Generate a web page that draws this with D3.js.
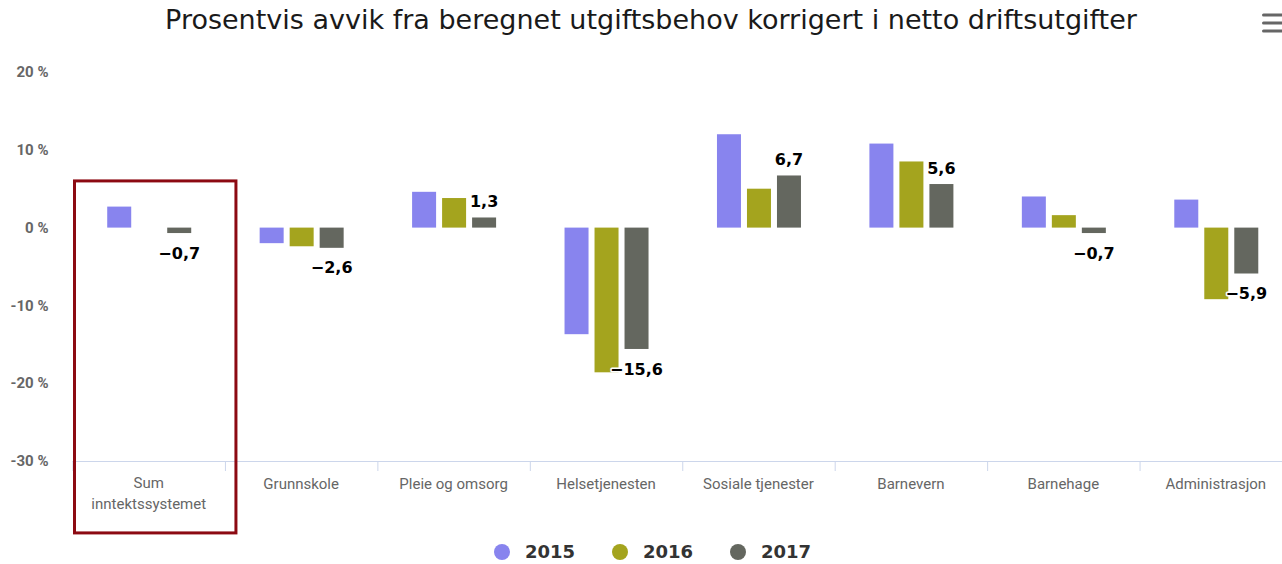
<!DOCTYPE html>
<html>
<head>
<meta charset="utf-8">
<script src="https://cdn.jsdelivr.net/npm/d3@7"></script>
<style>
  body { margin: 0; background: #fff; }
  svg { display: block; }
  .catLabel, .yLabel { font-family: "Liberation Sans Narrow", "Roboto", sans-serif; fill: #666; }
  .valLabel { font-family: "DejaVu Sans", sans-serif; font-weight: bold; font-size: 16px; fill: #000;
    stroke: #fff; stroke-width: 3px; paint-order: stroke; stroke-linejoin: round; }
</style>
</head>
<body>
<div class="chart_wrapper"></div>
<script>
// values (percent)
const categories = ["Sum inntektssystemet", "Grunnskole", "Pleie og omsorg", "Helsetjenesten",
  "Sosiale tjenester", "Barnevern", "Barnehage", "Administrasjon"]
const years = ["2015", "2016", "2017"]
const values2015 = [2.7, -2.0, 4.6, -13.7, 12.0, 10.8, 4.0, 3.6]
const values2016 = [0, -2.4, 3.8, -18.6, 5.0, 8.5, 1.6, -9.2]
const values2017 = [-0.7, -2.6, 1.3, -15.6, 6.7, 5.6, -0.7, -5.9]
const yTicks = [20, 10, 0, -10, -20, -30]
const colors = ["#8884ee", "#a4a41e", "#64675f"]

const series = [values2015, values2016, values2017]

let dimensions = {
  width: 1282,
  height: 564,
  margin: { top: 72, right: -10, bottom: 103, left: 72.5 },
}
dimensions.boundedWidth = dimensions.width - dimensions.margin.left - dimensions.margin.right
dimensions.boundedHeight = dimensions.height - dimensions.margin.top - dimensions.margin.bottom

const wrapper = d3.select(".chart_wrapper")
  .append("svg")
  .attr("width", dimensions.width)
  .attr("height", dimensions.height)

// title
wrapper.append("text")
  .attr("x", 651)
  .attr("y", 29)
  .attr("text-anchor", "middle")
  .style("font-family", "'DejaVu Sans', sans-serif")
  .style("font-size", "27px")
  .style("fill", "#1a1a1a")
  .text("Prosentvis avvik fra beregnet utgiftsbehov korrigert i netto driftsutgifter")

// menu icon
wrapper.append("g")
  .selectAll("rect")
  .data([15, 23, 31])
  .join("rect")
  .attr("x", 1262)
  .attr("y", d => d - 1.5)
  .attr("width", 24)
  .attr("height", 3)
  .attr("rx", 1.5)
  .attr("fill", "#666")

const bounds = wrapper.append("g")
  .attr("transform", `translate(${dimensions.margin.left},${dimensions.margin.top})`)

const xScale = d3.scaleBand()
  .domain(categories)
  .range([0, dimensions.boundedWidth])

const yScale = d3.scaleLinear()
  .domain([-30, 20])
  .range([dimensions.boundedHeight, 0])

const cw = xScale.bandwidth()
const xSub = d3.scaleBand()
  .domain(years)
  .range([cw / 2 - 45 + 0.5, cw / 2 + 45 + 0.5])
  .paddingInner(0.2)
  .paddingOuter(0.1)

// y labels
bounds.append("g")
  .selectAll("text")
  .data(yTicks)
  .join("text")
  .attr("class", "yLabel")
  .attr("x", -24)
  .attr("y", d => yScale(d))
  .attr("dy", "0.35em")
  .attr("text-anchor", "end")
  .style("font-size", "15px")
  .style("font-weight", "bold")
  .text(d => d + " %")

// x axis line and ticks
bounds.append("line")
  .attr("x1", 0)
  .attr("x2", dimensions.boundedWidth)
  .attr("y1", yScale(-30) + 0.5)
  .attr("y2", yScale(-30) + 0.5)
  .attr("stroke", "#ccd6eb")

bounds.append("g")
  .selectAll("line")
  .data(categories)
  .join("line")
  .attr("x1", d => xScale(d) + 0.5)
  .attr("x2", d => xScale(d) + 0.5)
  .attr("y1", yScale(-30))
  .attr("y2", yScale(-30) + 10)
  .attr("stroke", "#ccd6eb")

// category labels
const catText = bounds.append("g")
  .selectAll("text")
  .data(categories)
  .join("text")
  .attr("class", "catLabel")
  .attr("x", d => xScale(d) + cw / 2)
  .attr("y", yScale(-30) + 28)
  .attr("text-anchor", "middle")
  .style("font-size", "15px")

catText.each(function (d) {
  const t = d3.select(this)
  const parts = d === "Sum inntektssystemet" ? ["Sum", "inntektssystemet"] : [d]
  parts.forEach((p, i) => {
    t.append("tspan")
      .attr("x", xScale(d) + cw / 2)
      .attr("dy", i === 0 ? (parts.length > 1 ? "-0.1em" : 0) : "1.45em")
      .text(p)
  })
})

// bars
years.forEach((yr, si) => {
  bounds.append("g")
    .selectAll("rect")
    .data(series[si].map((v, i) => ({ cat: categories[i], v })))
    .join("rect")
    .filter(d => d.v !== 0)
    .attr("x", d => xScale(d.cat) + xSub(yr))
    .attr("width", xSub.bandwidth())
    .attr("y", d => yScale(Math.max(0, d.v)))
    .attr("height", d => Math.abs(yScale(d.v) - yScale(0)))
    .attr("fill", colors[si])
})

// data labels on 2017
bounds.append("g")
  .selectAll("text")
  .data(values2017.map((v, i) => ({ cat: categories[i], v })))
  .join("text")
  .attr("class", "valLabel")
  .attr("x", d => xScale(d.cat) + xSub("2017") + xSub.bandwidth() / 2)
  .attr("y", d => d.v >= 0 ? yScale(d.v) - 16 : yScale(d.v) + 20)
  .attr("dy", "0.35em")
  .attr("text-anchor", "middle")
  .text(d => (d.v < 0 ? "\u2212" : "") + Math.abs(d.v).toFixed(1).replace(".", ","))

// highlight box around first category
bounds.append("rect")
  .attr("x", xScale(categories[0]) + 2)
  .attr("y", yScale(6.0))
  .attr("width", cw + 9)
  .attr("height", 352)
  .attr("fill", "none")
  .attr("stroke", "#8c0a12")
  .attr("stroke-width", 3)

// legend
const legend = wrapper.append("g")
  .attr("transform", "translate(502,552)")

const items = legend.selectAll("g")
  .data(years)
  .join("g")
  .attr("transform", (d, i) => `translate(${i * 118},0)`)

items.append("circle")
  .attr("r", 8)
  .attr("fill", (d, i) => colors[i])

items.append("text")
  .attr("x", 23)
  .attr("dy", "0.35em")
  .style("font-family", "'DejaVu Sans', sans-serif")
  .style("font-weight", "bold")
  .style("font-size", "18px")
  .style("fill", "#333")
  .text(d => d)
</script>
</body>
</html>
